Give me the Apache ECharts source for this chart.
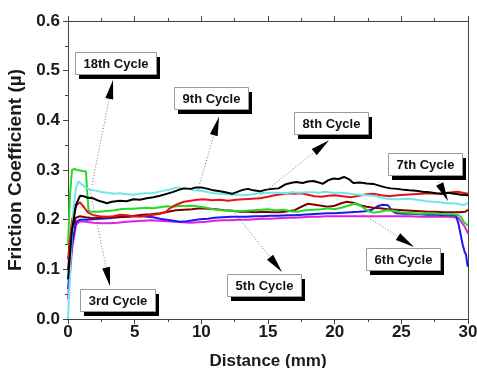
<!DOCTYPE html>
<html><head><meta charset="utf-8">
<script src="https://cdn.jsdelivr.net/npm/echarts@6/dist/echarts.min.js"></script>
<style>html,body{margin:0;padding:0;background:#fff}#c{width:477px;height:368px}</style>
</head><body><div id="c"></div>
<script>
const xTicks = [0, 5, 10, 15, 20, 25, 30];
const yTicks = [0.0, 0.1, 0.2, 0.3, 0.4, 0.5, 0.6];
const xName = 'Distance (mm)';
const yName = 'Friction Coefficient (\u00b5)';

const black = [[0,0.08],[0.3,0.18],[0.6,0.23],[0.9,0.248],[1.2,0.247],[1.5,0.244],[1.9,0.243],[2.3,0.238],[2.7,0.235],[2.9,0.233],[3.3,0.236],[3.9,0.238],[4.4,0.237],[4.9,0.241],[5.4,0.240],[5.9,0.243],[6.4,0.245],[6.9,0.248],[7.4,0.252],[7.9,0.256],[8.3,0.26],[8.7,0.263],[9.2,0.262],[9.6,0.265],[10.0,0.265],[10.5,0.262],[10.9,0.259],[11.4,0.257],[11.8,0.255],[12.3,0.252],[12.7,0.256],[13.1,0.26],[13.5,0.262],[13.9,0.259],[14.4,0.257],[14.8,0.26],[15.3,0.262],[15.8,0.263],[16.3,0.271],[16.7,0.274],[17.1,0.276],[17.6,0.274],[18.0,0.277],[18.4,0.278],[18.8,0.275],[19.1,0.272],[19.5,0.279],[19.9,0.283],[20.3,0.282],[20.7,0.286],[21.1,0.281],[21.4,0.274],[21.9,0.275],[22.4,0.273],[22.9,0.272],[23.4,0.268],[23.8,0.265],[24.2,0.263],[24.7,0.262],[25.2,0.26],[25.6,0.259],[26.1,0.258],[26.6,0.256],[27.1,0.255],[27.6,0.253],[28.0,0.252],[28.5,0.254],[29.0,0.252],[29.5,0.25],[30,0.249]];
const cyan = [[0,0],[0.2,0.12],[0.4,0.22],[0.6,0.265],[0.8,0.277],[1.0,0.272],[1.3,0.265],[1.7,0.26],[2.1,0.258],[2.6,0.255],[3.0,0.254],[3.5,0.252],[3.9,0.253],[4.4,0.251],[4.9,0.25],[5.3,0.252],[5.8,0.253],[6.3,0.253],[6.8,0.256],[7.3,0.259],[7.8,0.262],[8.2,0.265],[8.6,0.263],[9.0,0.262],[9.5,0.259],[9.9,0.258],[10.4,0.256],[10.9,0.253],[11.4,0.252],[11.9,0.251],[12.4,0.25],[12.9,0.25],[13.3,0.249],[13.8,0.251],[14.3,0.253],[14.8,0.253],[15.3,0.254],[15.8,0.254],[16.3,0.253],[16.8,0.255],[17.3,0.254],[17.8,0.255],[18.3,0.255],[18.8,0.254],[19.3,0.256],[19.8,0.254],[20.3,0.254],[20.9,0.253],[21.4,0.251],[21.9,0.25],[22.4,0.249],[22.9,0.248],[23.4,0.245],[23.9,0.242],[24.4,0.241],[24.9,0.241],[25.4,0.242],[25.9,0.241],[26.4,0.239],[26.9,0.237],[27.4,0.236],[27.9,0.235],[28.4,0.233],[28.9,0.233],[29.4,0.231],[29.7,0.229],[30,0.234]];
const green = [[0,0.15],[0.15,0.25],[0.3,0.3],[0.5,0.302],[0.7,0.3],[0.9,0.299],[1.1,0.298],[1.35,0.297],[1.45,0.25],[1.55,0.217],[1.9,0.216],[2.3,0.216],[2.7,0.217],[3.1,0.218],[3.5,0.219],[3.9,0.221],[4.4,0.222],[4.9,0.222],[5.4,0.223],[5.9,0.224],[6.4,0.223],[6.9,0.225],[7.4,0.227],[7.9,0.226],[8.4,0.228],[8.9,0.227],[9.4,0.228],[9.9,0.226],[10.4,0.224],[10.9,0.221],[11.5,0.219],[12.0,0.219],[12.6,0.217],[13.3,0.218],[13.9,0.219],[14.5,0.22],[15.0,0.221],[15.6,0.219],[16.2,0.22],[16.7,0.217],[17.2,0.216],[17.8,0.219],[18.4,0.22],[19.0,0.221],[19.5,0.223],[20.0,0.221],[20.5,0.224],[21.0,0.228],[21.6,0.233],[22.0,0.227],[22.4,0.219],[22.9,0.214],[23.4,0.216],[23.9,0.219],[24.4,0.218],[24.9,0.215],[25.4,0.214],[25.9,0.213],[26.5,0.212],[27.1,0.213],[27.7,0.212],[28.3,0.211],[28.9,0.211],[29.2,0.21],[29.5,0.205],[29.7,0.195],[30,0.188]];
const red = [[0,0.12],[0.3,0.2],[0.6,0.228],[0.9,0.235],[1.2,0.225],[1.5,0.214],[1.9,0.209],[2.4,0.207],[2.9,0.206],[3.4,0.207],[3.9,0.21],[4.4,0.209],[4.9,0.207],[5.4,0.206],[5.9,0.208],[6.4,0.21],[6.9,0.212],[7.3,0.215],[7.6,0.222],[7.9,0.227],[8.3,0.232],[8.7,0.236],[9.2,0.238],[9.7,0.24],[10.2,0.241],[10.8,0.239],[11.4,0.24],[12.0,0.238],[12.6,0.24],[13.2,0.241],[13.8,0.242],[14.4,0.243],[15.0,0.246],[15.5,0.249],[16.0,0.251],[16.5,0.253],[17.0,0.252],[17.5,0.253],[18.0,0.25],[18.5,0.247],[19.0,0.246],[19.5,0.248],[20.0,0.249],[20.6,0.247],[21.2,0.245],[21.8,0.248],[22.4,0.251],[22.9,0.252],[23.5,0.249],[24.1,0.247],[24.7,0.249],[25.3,0.25],[25.9,0.251],[26.5,0.252],[27.1,0.253],[27.7,0.252],[28.3,0.253],[28.8,0.255],[29.2,0.256],[29.6,0.254],[30,0.252]];
const darkRed = [[0,0.1],[0.3,0.18],[0.6,0.204],[0.9,0.207],[1.3,0.205],[1.9,0.203],[2.5,0.204],[3.1,0.205],[3.7,0.205],[4.4,0.206],[5.0,0.208],[5.6,0.21],[6.2,0.211],[6.9,0.213],[7.5,0.216],[8.1,0.219],[8.7,0.22],[9.3,0.221],[9.9,0.223],[10.5,0.222],[11.1,0.221],[11.7,0.219],[12.3,0.218],[12.9,0.216],[13.5,0.216],[14.1,0.215],[14.7,0.216],[15.3,0.215],[15.9,0.215],[16.5,0.217],[17.0,0.219],[17.5,0.226],[18.0,0.232],[18.5,0.23],[19.0,0.228],[19.5,0.226],[20.0,0.228],[20.5,0.233],[20.9,0.236],[21.4,0.234],[21.9,0.229],[22.4,0.226],[22.9,0.224],[23.4,0.223],[24.0,0.221],[24.6,0.22],[25.2,0.219],[25.8,0.218],[26.4,0.217],[27.0,0.216],[27.6,0.216],[28.2,0.215],[28.8,0.215],[29.4,0.215],[29.8,0.216],[30,0.22]];
const blue = [[0,0.06],[0.3,0.15],[0.6,0.195],[0.9,0.2],[1.4,0.2],[1.9,0.201],[2.5,0.202],[3.1,0.203],[3.7,0.205],[4.4,0.206],[5.0,0.207],[5.4,0.208],[5.9,0.206],[6.4,0.205],[6.9,0.202],[7.4,0.2],[7.9,0.198],[8.4,0.196],[8.9,0.197],[9.4,0.199],[9.9,0.201],[10.5,0.202],[11.0,0.204],[11.6,0.205],[12.2,0.206],[12.8,0.206],[13.4,0.206],[14.0,0.207],[14.6,0.207],[15.2,0.208],[15.8,0.208],[16.4,0.209],[17.0,0.209],[17.6,0.21],[18.2,0.211],[18.8,0.212],[19.4,0.213],[20.0,0.213],[20.6,0.214],[21.2,0.215],[21.8,0.216],[22.3,0.217],[22.8,0.22],[23.2,0.227],[23.6,0.23],[24.0,0.229],[24.3,0.218],[24.6,0.213],[25.2,0.212],[25.8,0.212],[26.4,0.211],[27.0,0.21],[27.6,0.21],[28.2,0.209],[28.8,0.209],[29.1,0.208],[29.3,0.19],[29.45,0.17],[29.6,0.15],[29.75,0.135],[29.85,0.13],[29.95,0.11],[30,0.105]];
const magenta = [[0,0.04],[0.3,0.14],[0.6,0.19],[0.9,0.197],[1.3,0.196],[1.9,0.194],[2.5,0.193],[3.1,0.193],[3.7,0.194],[4.4,0.196],[5.0,0.197],[5.6,0.198],[6.2,0.199],[6.8,0.198],[7.4,0.197],[8.0,0.196],[8.6,0.195],[9.2,0.194],[9.8,0.195],[10.4,0.196],[11.0,0.198],[11.6,0.199],[12.2,0.199],[12.8,0.2],[13.4,0.2],[14.0,0.201],[14.6,0.202],[15.2,0.202],[15.8,0.203],[16.4,0.204],[17.0,0.204],[17.6,0.205],[18.2,0.206],[18.8,0.206],[19.4,0.207],[20.0,0.207],[20.8,0.207],[21.6,0.207],[22.4,0.207],[23.2,0.207],[24.0,0.207],[24.8,0.207],[25.6,0.207],[26.4,0.206],[27.2,0.206],[28.0,0.206],[28.6,0.206],[29.0,0.205],[29.3,0.203],[29.5,0.195],[29.7,0.188],[29.9,0.178],[30,0.172]];

const seriesList = [
  {name:'magenta', data:magenta, color:'#e020e0'},
  {name:'blue', data:blue, color:'#1a1aee'},
  {name:'darkRed', data:darkRed, color:'#800000'},
  {name:'green', data:green, color:'#22dd22'},
  {name:'red', data:red, color:'#e8101a'},
  {name:'cyan', data:cyan, color:'#6ee8e8'},
  {name:'black', data:black, color:'#000000'}
];

// annotation labels (data units): label center, arrow start, arrow tip
const annotations = [
  {text:'18th Cycle', at:[3.56,0.516], from:[1.8,0.27], to:[3.375,0.481]},
  {text:'9th Cycle', at:[10.73,0.444], from:[9.75,0.26], to:[11.33,0.407]},
  {text:'8th Cycle', at:[19.73,0.394], from:[14.25,0.2456], to:[19.58,0.36]},
  {text:'7th Cycle', at:[26.74,0.313], from:[27.6,0.287], to:[28.5,0.2376]},
  {text:'6th Cycle', at:[25.09,0.12], from:[21.9,0.215], to:[25.95,0.145]},
  {text:'5th Cycle', at:[14.7,0.0685], from:[12.5,0.213], to:[16.05,0.0946]},
  {text:'3rd Cycle', at:[3.675,0.038], from:[1.65,0.26], to:[3.15,0.066]}
];

const FONT = 'Arial, "Liberation Sans", sans-serif';
const chart = echarts.init(document.getElementById('c'), null, {renderer:'canvas'});
const labelStyle = {fontFamily:FONT, fontWeight:'bold', fontSize:17, color:'#1a1a1a'};
const axisLineStyle = {color:'#444', width:1};

const option = {
  animation:false,
  backgroundColor:'#fff',
  grid:{left:68, right:9, top:21, bottom:49, containLabel:false, outerBoundsMode:'none'},
  xAxis:[{
    type:'value', min:xTicks[0], max:xTicks[xTicks.length-1], interval:xTicks[1]-xTicks[0],
    position:'bottom',
    name:xName, nameLocation:'middle', nameGap:34,
    nameTextStyle:{fontFamily:FONT, fontWeight:'bold', fontSize:17, color:'#1a1a1a'},
    axisLine:{show:true, onZero:false, lineStyle:axisLineStyle},
    axisTick:{show:true, inside:false, length:5, lineStyle:axisLineStyle},
    minorTick:{show:true, splitNumber:2, length:3, lineStyle:axisLineStyle},
    axisLabel:Object.assign({margin:5, formatter:v=>String(v)}, labelStyle),
    splitLine:{show:false}
  },{
    type:'value', min:xTicks[0], max:xTicks[xTicks.length-1], interval:xTicks[1]-xTicks[0],
    position:'top',
    axisLine:{show:true, onZero:false, lineStyle:axisLineStyle},
    axisTick:{show:true, inside:false, length:5, lineStyle:axisLineStyle},
    minorTick:{show:true, splitNumber:2, length:3, lineStyle:axisLineStyle},
    axisLabel:{show:false}, splitLine:{show:false}
  }],
  yAxis:[{
    type:'value', min:yTicks[0], max:yTicks[yTicks.length-1], interval:0.1,
    position:'left',
    name:yName, nameLocation:'middle', nameGap:40, nameRotate:90,
    nameTextStyle:{fontFamily:FONT, fontWeight:'bold', fontSize:19, color:'#1a1a1a'},
    axisLine:{show:true, onZero:false, lineStyle:axisLineStyle},
    axisTick:{show:true, inside:false, length:5, lineStyle:axisLineStyle},
    minorTick:{show:true, splitNumber:2, length:3, lineStyle:axisLineStyle},
    axisLabel:Object.assign({margin:8, formatter:v=>v.toFixed(1)}, labelStyle),
    splitLine:{show:false}
  },{
    type:'value', min:yTicks[0], max:yTicks[yTicks.length-1], interval:0.1,
    position:'right',
    axisLine:{show:true, onZero:false, lineStyle:axisLineStyle},
    axisTick:{show:false}, axisLabel:{show:false}, splitLine:{show:false}
  }],
  series: seriesList.map(s=>({
    name:s.name, type:'line', data:s.data, xAxisIndex:0, yAxisIndex:0,
    showSymbol:false, symbol:'none', smooth:false,
    lineStyle:{color:s.color, width:2}, itemStyle:{color:s.color}, z:2
  }))
};
chart.setOption(option);

// draw annotation boxes and arrows positioned through the chart's scales
const ctx = document.createElement('canvas').getContext('2d');
const boxFont = 'bold 13px ' + FONT;
ctx.font = boxFont;
const toPx = p => chart.convertToPixel({xAxisIndex:0, yAxisIndex:0}, p);
const elements = [];
annotations.forEach(a=>{
  const c = toPx(a.at);
  const w = Math.round(ctx.measureText(a.text).width + 16);
  const h = 22;
  const x = Math.round(c[0] - w/2), y = Math.round(c[1] - h/2);
  elements.push({type:'rect', z:100, shape:{x:x+4, y:y+5, width:w, height:h}, style:{fill:'#000'}});
  elements.push({type:'rect', z:101, shape:{x:x+0.5, y:y+0.5, width:w, height:h}, style:{fill:'#fff', stroke:'#9a9a9a', lineWidth:1}});
  elements.push({type:'text', z:102, x:x+w/2+0.5, y:y+h/2+1, style:{text:a.text, font:boxFont, fill:'#111', align:'center', verticalAlign:'middle'}});
  const s = toPx(a.from), t = toPx(a.to);
  const dx = t[0]-s[0], dy = t[1]-s[1];
  const len = Math.sqrt(dx*dx+dy*dy);
  const ux = dx/len, uy = dy/len;
  const headL = 19, headW = 4;
  const bx = t[0]-ux*headL, by = t[1]-uy*headL;
  elements.push({type:'line', z:99, shape:{x1:s[0], y1:s[1], x2:bx, y2:by}, style:{stroke:'#777', lineWidth:1, lineDash:[1,2]}});
  elements.push({type:'polygon', z:103, shape:{points:[[t[0],t[1]],[bx-uy*headW, by+ux*headW],[bx+uy*headW, by-ux*headW]]}, style:{fill:'#000'}});
});
chart.setOption({graphic:{elements:elements}});
</script>
</body></html>
